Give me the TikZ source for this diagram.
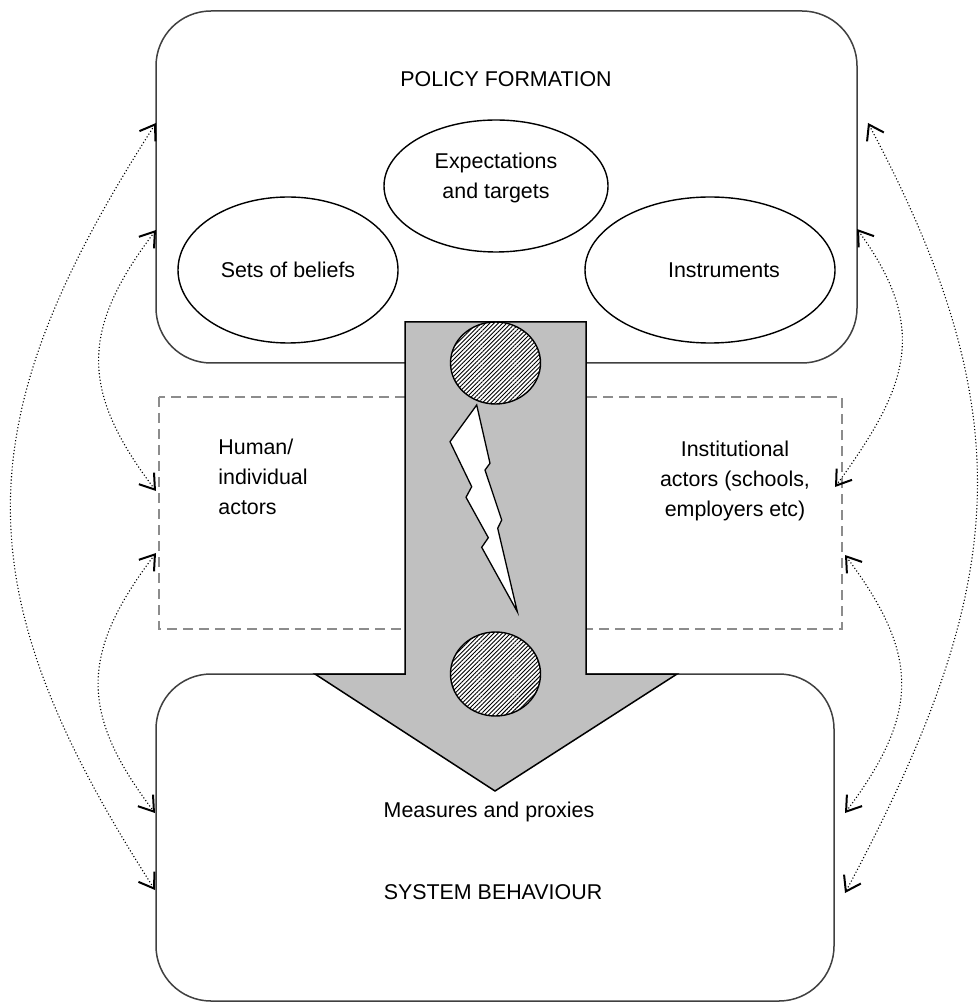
\documentclass[tikz,border=0pt]{standalone}
\usepackage{fontspec}
\setmainfont{Liberation Sans}
\usetikzlibrary{positioning,shapes.geometric,arrows.meta,patterns.meta}

\begin{document}
\begin{tikzpicture}[x=0.5pt,y=-0.5pt]
  \definecolor{boxline}{HTML}{404040}
  \definecolor{dashline}{HTML}{8C8C8C}
  \definecolor{shaftgray}{HTML}{C0C0C0}
  \newcommand{\labelfont}[0]{\fontsize{10.7}{15}\selectfont}
  \tikzstyle{frame}     = [draw = boxline, line width=0.75pt, rounded corners=27.5pt]
  \tikzstyle{layer}     = [draw = dashline, line width=0.65pt, dash pattern=on 5pt off 3pt]
  \tikzstyle{bubble}    = [ellipse, draw = black, line width=0.7pt, inner sep=0pt, font=\labelfont, align=center]
  \tikzstyle{caption}   = [font=\labelfont, align=center, inner sep=0pt]
  \tikzstyle{hatched}   = [draw = black, line width=0.7pt, fill = white, postaction={pattern={Lines[angle=45,distance=1.5pt,line width=0.45pt]}}]
  \tikzstyle{feedback}  = [line width=0.55pt, dash pattern=on 0.55pt off 1.1pt, {Straight Barb[length=7pt,width=9.5pt,line width=1pt]}-{Straight Barb[length=7pt,width=9.5pt,line width=1pt]}]

  \useasboundingbox (0,0) rectangle (978,1004);

  % frames
  \draw [frame] (156,11) rectangle (857,363);
  \draw [layer] (159,397) rectangle (842,629);
  \draw [frame] (156,674) rectangle (834,1001);

  % policy formation
  \node [caption] (policy) at (506,79) {POLICY FORMATION};
  \node [bubble, minimum width=112pt, minimum height=66pt] (expect)  at (496,186) {Expectations\\and targets\\[-5pt]};
  \node [bubble, minimum width=110pt, minimum height=73pt] (beliefs) at (288,270) {Sets of beliefs};
  \node [bubble, minimum width=125pt, minimum height=73pt] (instr)   at (710,270) {\hspace*{14pt}Instruments};

  % big arrow
  \draw [draw = black, line width=0.75pt, fill = shaftgray]
    (405,322) -- (586,322) -- (586,674) -- (677,674) -- (495,791) -- (315,674) -- (405,674) -- cycle;
  \draw [hatched] (495.5,363) ellipse [x radius=45, y radius=41];
  \draw [hatched] (495.5,674) ellipse [x radius=45, y radius=42];
  \draw [draw = black, line width=0.65pt, fill = white]
    (476.7,405) -- (450,441.7) -- (471.7,486.7) -- (466,497.3) -- (488.3,537.7) -- (481.7,547.3)
    -- (517.3,611.7) -- (497.7,528.3) -- (501.7,520) -- (485,470) -- (490,463.3) -- cycle;

  % actors
  \node [caption, anchor=west, align=left] (human) at (218,477) {Human/\\individual\\actors};
  \node [caption] (inst) at (735,481) {Institutional\\actors (schools,\\employers etc)};

  % system behaviour
  \node [caption] (measures) at (489,812) {Measures and proxies};
  \node [caption] (system)   at (493,892) {SYSTEM BEHAVIOUR};

  % feedback loops
  \coordinate (la1) at (156,123);  \coordinate (lb1) at (155,890);
  \coordinate (la2) at (156,230);  \coordinate (lb2) at (156,491);
  \coordinate (la3) at (156,553);  \coordinate (lb3) at (155,813);
  \coordinate (ra1) at (868,123);  \coordinate (rb1) at (845,893);
  \coordinate (ra2) at (857,229);  \coordinate (rb2) at (835,487);
  \coordinate (ra3) at (845,555);  \coordinate (rb3) at (845,813);

  \draw [feedback] (la1) .. controls +(-193,300) and +(-193,-300) .. (lb1);
  \draw [feedback] (la2) .. controls +(-76,100) and +(-76,-100) .. (lb2);
  \draw [feedback] (la3) .. controls +(-76,100) and +(-76,-100) .. (lb3);
  \draw [feedback] (ra1) .. controls +(160,300) and +(160,-300) .. (rb1);
  \draw [feedback] (ra2) .. controls +(73,100) and +(73,-100) .. (rb2);
  \draw [feedback] (ra3) .. controls +(75,100) and +(75,-100) .. (rb3);
\end{tikzpicture}
\end{document}
